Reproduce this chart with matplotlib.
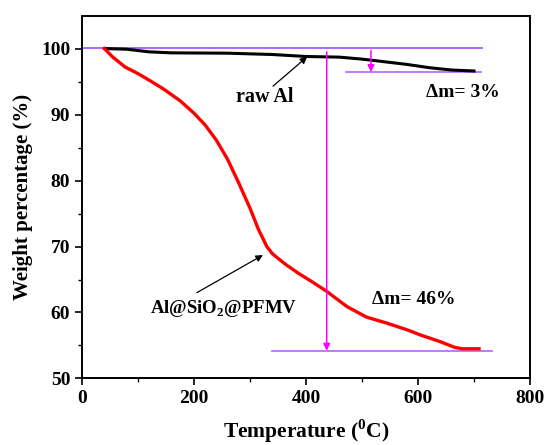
import matplotlib
matplotlib.use("Agg")
import matplotlib.pyplot as plt
import numpy as np

plt.rcParams['font.family'] = ['Liberation Serif', 'DejaVu Serif']
plt.rcParams['font.weight'] = 'bold'
plt.rcParams['mathtext.fontset'] = 'custom'
plt.rcParams['mathtext.bf'] = 'Liberation Serif:bold'
plt.rcParams['mathtext.rm'] = 'Liberation Serif:bold'

# Data
raw_T = [40, 80, 120, 160, 260, 340, 400, 460, 500, 540, 580, 620, 660, 700]
raw_W = [100, 99.9, 99.5, 99.35, 99.3, 99.1, 98.8, 98.7, 98.4, 98.0, 97.6, 97.1, 96.75, 96.6]

coat_T = [40, 55, 77, 100, 120, 145, 175, 200, 220, 240, 260, 280, 300, 315, 330, 340,
          350, 365, 389, 410, 437, 473, 508, 544, 583, 604, 639, 666, 680, 709]
coat_W = [100, 98.7, 97.2, 96.2, 95.2, 93.9, 92.1, 90.2, 88.4, 86.1, 83.2, 79.6, 75.8,
          72.6, 70.0, 68.9, 68.2, 67.2, 65.8, 64.7, 63.2, 60.9, 59.3, 58.4, 57.3, 56.6,
          55.6, 54.7, 54.5, 54.5]

xticks = [0, 200, 400, 600, 800]
yticks = [50, 60, 70, 80, 90, 100]

fig = plt.figure(figsize=(5.45, 4.45), dpi=100)
ax = fig.add_axes([0.1505, 0.1495, 0.822, 0.8155])

purple = '#b266ff'
magenta = '#ff00ff'

# reference lines
ax.plot([0, 714], [100.15, 100.15], color=purple, lw=1.4, zorder=1)
ax.plot([471, 712], [96.45, 96.45], color=purple, lw=1.2, zorder=1)
ax.plot([339, 732], [54.2, 54.2], color=purple, lw=1.2, zorder=1)

ax.plot(raw_T, raw_W, color='black', lw=2.2, zorder=3)
ax.plot(coat_T, coat_W, color='#ff0000', lw=2.4, zorder=3)

# magenta arrows
ax.annotate('', xy=(437, 54.2), xytext=(437, 99.5),
            arrowprops=dict(arrowstyle='-|>', color=magenta, lw=1.1,
                            mutation_scale=10, shrinkA=0, shrinkB=0))
ax.annotate('', xy=(516, 96.45), xytext=(516, 99.7),
            arrowprops=dict(arrowstyle='-|>', color=magenta, lw=1.1,
                            mutation_scale=10, shrinkA=0, shrinkB=0))

# label arrows
ax.annotate('', xy=(402, 98.75), xytext=(341, 94.3),
            arrowprops=dict(arrowstyle='-|>', color='black', lw=0.9,
                            mutation_scale=10, shrinkA=0, shrinkB=0))
ax.annotate('', xy=(323, 68.7), xytext=(205, 63.0),
            arrowprops=dict(arrowstyle='-|>', color='black', lw=0.9,
                            mutation_scale=10, shrinkA=0, shrinkB=0))

ax.text(275, 92.6, 'raw Al', fontsize=14.5, fontweight='bold', ha='left', va='center')
ax.text(614, 93.3, 'Δm= 3%', fontsize=14, fontweight='bold', ha='left', va='center')
ax.text(518, 61.9, 'Δm= 46%', fontsize=14, fontweight='bold', ha='left', va='center')
ax.text(121, 60.6, r'Al@SiO$_{\mathbf{2}}$@PFMV', fontsize=13.5, fontweight='bold',
        ha='left', va='center')

ax.set_xlim(0, 800)
ax.set_ylim(50, 105)
ax.set_xticks(xticks)
ax.set_yticks(yticks)
ax.set_xticks(np.arange(100, 800, 200), minor=True)
ax.set_yticks(np.arange(55, 105, 10), minor=True)
ax.tick_params(which='major', direction='out', length=5, width=1.2, labelsize=14)
ax.tick_params(which='minor', direction='out', length=3, width=1.0)
for lbl in ax.get_xticklabels() + ax.get_yticklabels():
    lbl.set_fontweight('bold')

for s in ax.spines.values():
    s.set_linewidth(1.4)

ax.set_xlabel(r'Temperature ($^{\mathbf{0}}$C)', fontsize=15.5, fontweight='bold', labelpad=7)
ax.set_ylabel('Weight percentage (%)', fontsize=15, fontweight='bold', labelpad=6)

fig.savefig('out.png', dpi=100)
